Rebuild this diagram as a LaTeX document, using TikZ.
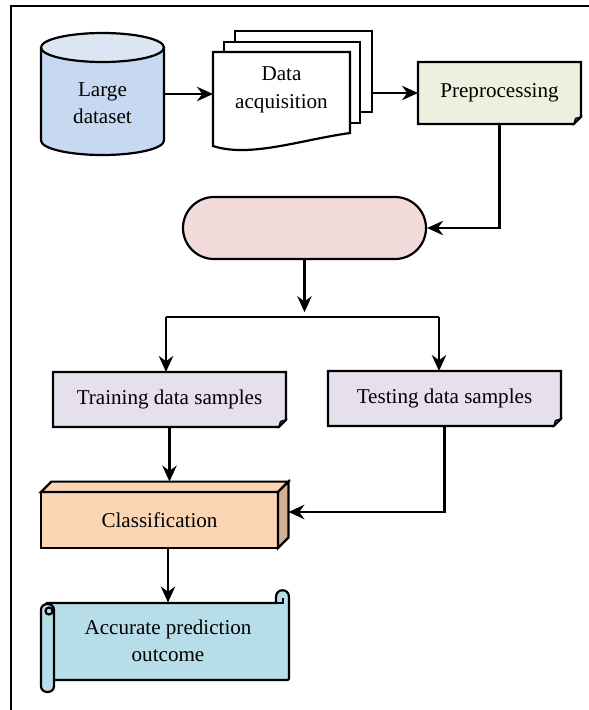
\documentclass[tikz,border=0pt]{standalone}
\usepackage{fontspec}
\setmainfont{Liberation Serif}
\usetikzlibrary{arrows.meta,calc}
\definecolor{dbblue}{HTML}{C6D9F1}
\definecolor{dbtop}{HTML}{DCE6F2}
\definecolor{prepgreen}{HTML}{EBF1DE}
\definecolor{splitpink}{HTML}{F2DCDB}
\definecolor{samplelilac}{HTML}{E5E0EC}
\definecolor{clspeach}{HTML}{FCD5B5}
\definecolor{clsface}{HTML}{D5AF93}
\definecolor{outcyan}{HTML}{B7DEE8}

\begin{document}
\begin{tikzpicture}[x=0.25mm, y=-0.25mm, line width=0.55mm,
  >={Stealth[length=4mm,width=3.6mm,inset=1.3mm]},
  font=\fontsize{15}{19.5}\selectfont,
  txt/.style={align=center, inner sep=0pt},
  shapebox/.style={outer sep=0pt, inner sep=0pt},
  notebox/.style={fill=#1, outer sep=0pt, minimum width=58.25mm, minimum height=13.75mm}]
  \useasboundingbox (0,0) rectangle (589,710);
  % frame
  \draw (11,740) -- (11,6) -- (620,6);

  % large dataset
  \node[shapebox, minimum width=30.75mm, minimum height=30.5mm] (large) at (102.5,94) {};
  \fill[dbblue] (41,47.5) rectangle (164,140.5);
  \draw[fill=dbblue] (41,47.5) -- (41,140.5) arc[start angle=180, end angle=0, x radius=61.5, y radius=14.5] -- (164,47.5);
  \draw[fill=dbtop] (102.5,47.5) ellipse [x radius=61.5, y radius=14.5];
  \node[txt] (largetxt) at (102.5,103) {Large\\dataset};

  % data acquisition pages
  \draw[fill=white] (235,31) rectangle (372,112);
  \draw[fill=white] (224,42) rectangle (360,123);
  \draw[fill=white] (213,52) -- (350,52) -- (350,133) .. controls (300,140) and (250,158) .. (213,146) -- cycle;
  \node[shapebox, minimum width=34.25mm, minimum height=23.5mm] (acq) at (281.5,99) {};
  \node[txt] (acqtxt) at (281.5,90) {Data\\acquisition};
  \coordinate (acqback) at (372,93);

  \node[notebox=prepgreen, minimum width=40.75mm, minimum height=15.5mm] (prep) at (499.5,93) {Preprocessing};
  \node[draw, fill=splitpink, rounded corners=7.75mm, minimum width=60.75mm, minimum height=15.5mm] (term) at (304.5,228) {};
  \node[notebox=samplelilac] (train) at (169.5,399.5) {Training data samples};
  \node[notebox=samplelilac] (test) at (444.5,398.5) {Testing data samples};

  % folded corners
  \foreach \n in {prep, train, test} {
    \fill[white] ([yshift=1.8mm]\n.south east) -- (\n.south east) -- ([xshift=-1.8mm]\n.south east) -- cycle;
    \draw (\n.north west) -- (\n.north east) -- ([yshift=1.8mm]\n.south east) -- ([xshift=-1.8mm]\n.south east) -- (\n.south west) -- cycle;
    \draw[fill=black!75, line width=0.3mm] ([yshift=1.8mm]\n.south east) -- ([xshift=-1.8mm]\n.south east) -- ([shift={(-1.4mm,1.4mm)}]\n.south east) -- cycle;
  }

  % classification block
  \node[draw, fill=clspeach, outer sep=0pt, minimum width=59.25mm, minimum height=14mm] (cls) at (159.5,520) {Classification};
  \draw[fill=clspeach] (cls.north west) -- ([shift={(2.6mm,2.6mm)}]cls.north west) -- ([shift={(2.6mm,2.6mm)}]cls.north east) -- (cls.north east) -- cycle;
  \draw[fill=clsface] (cls.north east) -- ([shift={(2.6mm,2.6mm)}]cls.north east) -- ([shift={(2.6mm,2.6mm)}]cls.south east) -- (cls.south east) -- cycle;
  \coordinate (clstop) at ([yshift=2.6mm]cls.north);
  \coordinate (clsright) at ([shift={(2.6mm,2mm)}]cls.east);

  % scroll
  \draw[fill=outcyan] (47,603) -- (276,603) -- (276,597) .. controls (276,588) and (289,588) .. (289,597) -- (289,676) .. controls (289,680) .. (285,680) -- (47,680) -- cycle;
  \draw (276,603) -- (283,603) -- (283,598);
  \draw[fill=outcyan] (41,610) -- (41,686) .. controls (41,694) and (54,694) .. (54,686) -- (54,610) .. controls (54,602) and (41,602) .. (41,610) -- cycle;
  \draw (49,611) circle (3.5);
  \node[shapebox, minimum width=60.5mm, minimum height=19.25mm, align=center] (out) at (168,641) {Accurate prediction\\outcome};

  % arrows
  \coordinate (splitL) at (166,317);
  \coordinate (splitR) at (439,317);
  \draw[->] (large.east) -- (large.east -| acq.west);
  \draw[->] (acqback) -- (prep.west);
  \draw[->] (prep) |- (term);
  \draw[->, shorten >=1.2mm] (term) -- (term |- splitL);
  \draw (splitL) -- (splitR);
  \draw[->] (splitL) -- (splitL |- train.north);
  \draw[->] (splitR) -- (splitR |- test.north);
  \draw[->] (train) -- (train |- clstop);
  \draw[->] (test) |- (clsright);
  \draw[->] (cls.south -| out.north) -- (out.north);
\end{tikzpicture}
\end{document}
